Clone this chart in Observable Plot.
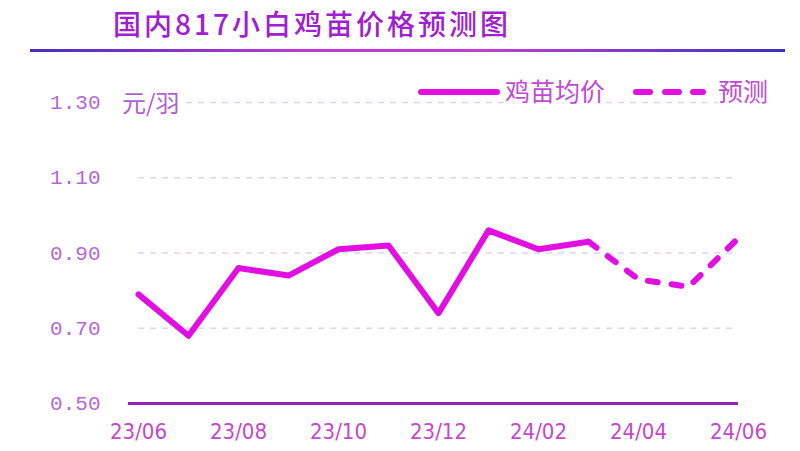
<!DOCTYPE html>
<html>
<head>
<meta charset="utf-8">
<script src="https://cdn.jsdelivr.net/npm/d3@7"></script>
<script src="https://cdn.jsdelivr.net/npm/@observablehq/plot@0.6"></script>
<style>
  html, body { margin: 0; padding: 0; background: #fff; }
  #wrap { position: relative; width: 800px; height: 451px; overflow: hidden; background: #fff; }
  .abs { position: absolute; line-height: 1; white-space: nowrap; }
  #chart { position: absolute; left: 0; top: 55px; }
</style>
</head>
<body>
<div id="wrap">
  <div class="abs" id="title" style="left:113px; top:9px; font-family:'Noto Sans CJK SC'; font-size:28px; letter-spacing:3px; font-weight:500; color:#a020d0;"></div>
  <div class="abs" style="left:30px; top:49px; width:755px; height:3px; background:linear-gradient(to right,#4a2cc0,#b83cd0 35%,#c040d0 60%,#3a30c0);"></div>
  <div id="chart"></div>
  <div class="abs" id="unit" style="left:122px; top:90px; font-family:'Noto Sans CJK SC'; font-size:24px; color:#b060d0; background:#fff; padding-right:3px;"></div>
  <div class="abs" style="left:418px; top:89px; width:82px; height:6px; border-radius:3px; background:#e20ee2;"></div>
  <div class="abs" id="leg1" style="left:505px; top:78px; font-family:'Noto Sans CJK SC'; font-size:25px; color:#c04ad4; background:#fff;"></div>
  <div class="abs" style="left:633px; top:89px; width:20px; height:6px; border-radius:3px; background:#e20ee2;"></div>
  <div class="abs" style="left:662px; top:89px; width:20px; height:6px; border-radius:3px; background:#e20ee2;"></div>
  <div class="abs" style="left:690px; top:89px; width:16px; height:6px; border-radius:3px; background:#e20ee2;"></div>
  <div class="abs" id="leg2" style="left:718px; top:78px; font-family:'Noto Sans CJK SC'; font-size:25px; color:#c04ad4; background:#fff;"></div>
</div>
<script>
const titleText = "国内817小白鸡苗价格预测图";
const unitText = "元/羽";
const seriesActual = "鸡苗均价";
const seriesForecast = "预测";

const months = ["23/06","23/07","23/08","23/09","23/10","23/11","23/12","24/01","24/02","24/03","24/04","24/05","24/06"];
const actualValues = [0.79, 0.68, 0.86, 0.84, 0.91, 0.92, 0.74, 0.96, 0.91, 0.93];
const forecastValues = [0.83, 0.81, 0.94];
const yTicks = [0.50, 0.70, 0.90, 1.10, 1.30];
const xTickLabels = ["23/06","23/08","23/10","23/12","24/02","24/04","24/06"];

document.getElementById("title").textContent = titleText;
document.getElementById("unit").textContent = unitText;
document.getElementById("leg1").textContent = seriesActual;
document.getElementById("leg2").textContent = seriesForecast;

const actual = actualValues.map((v, i) => ({month: months[i], value: v}));
const lastActual = actual[actual.length - 1];
const forecast = [lastActual].concat(
  forecastValues.map((v, i) => ({month: months[actualValues.length + i], value: v}))
);

const magenta = "#e20ee2";

const chart = Plot.plot({
  width: 800,
  height: 396,
  marginLeft: 138,
  marginRight: 62,
  marginTop: 47,
  marginBottom: 48,
  style: {background: "transparent", overflow: "visible"},
  x: {type: "point", domain: months, padding: 0},
  y: {domain: [0.5, 1.3]},
  marks: [
    Plot.ruleY(yTicks.slice(1), {stroke: "#ddd3f2", strokeWidth: 1.5, strokeDasharray: "6,6"}),
    Plot.ruleY([yTicks[0]], {stroke: "#9a20b8", strokeWidth: 3, insetLeft: -10}),
    Plot.axisY({
      ticks: yTicks, tickSize: 0, tickPadding: 38,
      tickFormat: d3.format(".2f"),
      fontFamily: "Liberation Mono", fontSize: 21, fill: "#b468d4", label: null
    }),
    Plot.axisX({
      ticks: xTickLabels, tickSize: 0, tickPadding: 20,
      fontFamily: "DejaVu Sans Condensed", fontSize: 22, fill: "#c448c8", label: null
    }),
    Plot.line(actual, {x: "month", y: "value", stroke: magenta, strokeWidth: 6, strokeLinejoin: "round", strokeLinecap: "round"}),
    Plot.line(forecast, {x: "month", y: "value", stroke: magenta, strokeWidth: 6, strokeDasharray: "10,14", strokeLinejoin: "round", strokeLinecap: "round"})
  ]
});
document.getElementById("chart").appendChild(chart);
</script>
</body>
</html>
